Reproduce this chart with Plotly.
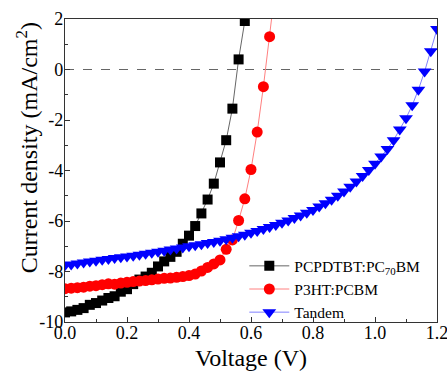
import plotly.graph_objects as go

# ---- data ----
v_pcpdtbt = [0.00, 0.02, 0.04, 0.06, 0.08, 0.10, 0.12, 0.14, 0.16, 0.18, 0.20, 0.22, 0.24, 0.26, 0.28,
             0.30, 0.32, 0.34, 0.36, 0.38, 0.40, 0.42, 0.44, 0.46, 0.48, 0.50, 0.52, 0.54, 0.56, 0.58]
j_pcpdtbt = [-9.62, -9.58, -9.52, -9.45, -9.32, -9.25, -9.15, -9.05, -8.98, -8.80, -8.70, -8.50, -8.32, -8.20, -8.05,
             -7.80, -7.60, -7.42, -7.22, -6.90, -6.58, -6.20, -5.70, -5.15, -4.52, -3.68, -2.80, -1.55, 0.40, 1.92]

v_p3ht = [0.00, 0.02, 0.04, 0.06, 0.08, 0.10, 0.12, 0.14, 0.16, 0.18, 0.20, 0.22, 0.24, 0.26, 0.28, 0.30, 0.32,
          0.34, 0.36, 0.38, 0.40, 0.42, 0.44, 0.46, 0.48, 0.50, 0.52, 0.54, 0.56, 0.58, 0.60, 0.62, 0.64, 0.66, 0.68]
j_p3ht = [-8.68, -8.66, -8.64, -8.62, -8.58, -8.56, -8.52, -8.49, -8.50, -8.46, -8.43, -8.40, -8.38, -8.36, -8.33, -8.30, -8.27,
          -8.26, -8.23, -8.20, -8.16, -8.10, -7.98, -7.84, -7.70, -7.54, -7.12, -6.75, -5.98, -5.12, -3.96, -2.48, -0.68, 1.30, 3.40]

v_tandem = [0.00, 0.02, 0.04, 0.06, 0.08, 0.10, 0.12, 0.14, 0.16, 0.18, 0.20, 0.22, 0.24, 0.26, 0.28, 0.30,
            0.32, 0.34, 0.36, 0.38, 0.40, 0.42, 0.44, 0.46, 0.48, 0.50, 0.52, 0.54, 0.56, 0.58, 0.60,
            0.62, 0.64, 0.66, 0.68, 0.70, 0.72, 0.74, 0.76, 0.78, 0.80, 0.82, 0.84, 0.86, 0.88, 0.90,
            0.92, 0.94, 0.96, 0.98, 1.00, 1.02, 1.04, 1.06, 1.08, 1.10, 1.12, 1.14, 1.16, 1.18, 1.20]
j_tandem = [-7.75, -7.72, -7.68, -7.64, -7.60, -7.57, -7.53, -7.50, -7.47, -7.44, -7.41, -7.38, -7.34, -7.30, -7.26, -7.22,
            -7.18, -7.13, -7.09, -7.05, -7.00, -6.96, -6.92, -6.87, -6.83, -6.78, -6.72, -6.66, -6.60, -6.54, -6.47,
            -6.40, -6.32, -6.24, -6.16, -6.07, -5.98, -5.88, -5.78, -5.67, -5.56, -5.43, -5.30, -5.16, -5.00, -4.83,
            -4.64, -4.44, -4.22, -3.98, -3.73, -3.45, -3.15, -2.80, -2.38, -1.93, -1.42, -0.80, -0.08, 0.72, 1.60]

x_tickvals = [0.0, 0.2, 0.4, 0.6, 0.8, 1.0, 1.2]
x_ticktext = ["0.0", "0.2", "0.4", "0.6", "0.8", "1.0", "1.2"]
y_tickvals = [2, 0, -2, -4, -6, -8, -10]
y_ticktext = ["2", "0", "-2", "-4", "-6", "-8", "-10"]

series_names = ["PCPDTBT:PC<sub>70</sub>BM", "P3HT:PCBM", "Tandem"]
x_title = "Voltage (V)"
y_title = "Current density (mA/cm<sup>2</sup>)"

FONT = "Liberation Serif"

fig = go.Figure()
fig.add_trace(go.Scatter(x=v_pcpdtbt, y=j_pcpdtbt, name=series_names[0], mode="lines+markers",
                         line=dict(color="#666666", width=1),
                         marker=dict(symbol="square", size=10, color="black")))
fig.add_trace(go.Scatter(x=v_p3ht, y=j_p3ht, name=series_names[1], mode="lines+markers",
                         line=dict(color="#ff8080", width=1),
                         marker=dict(symbol="circle", size=11, color="#ff0000")))
fig.add_trace(go.Scatter(x=v_tandem, y=j_tandem, name=series_names[2], mode="lines+markers",
                         line=dict(color="#8080ff", width=1),
                         marker=dict(symbol="triangle-down", size=12, color="#0000ff")))

fig.add_shape(type="line", xref="paper", yref="y", x0=0, x1=1, y0=0, y1=0,
              line=dict(color="#666666", width=1.2, dash="dash"), layer="below")

# y-axis title as a rotated annotation (sits above the plot centre in the reference)
fig.add_annotation(text=y_title, xref="paper", yref="paper", x=-0.102, y=0.574,
                   xanchor="center", yanchor="middle", textangle=-90, showarrow=False,
                   font=dict(family=FONT, size=24, color="black"))

axis_common = dict(showgrid=False, zeroline=False, showline=True, linecolor="#333333", linewidth=1.2,
                   mirror=True, ticks="inside", ticklen=5, tickcolor="#333333", tickwidth=1,
                   ticklabeloverflow="allow", automargin=False,
                   tickfont=dict(family=FONT, size=18, color="black"))

fig.update_xaxes(range=[0, 1.2], tickvals=x_tickvals, ticktext=x_ticktext,
                 minor=dict(ticks="inside", ticklen=3, dtick=0.1, tickcolor="#333333"),
                 ticklabelstandoff=-6,
                 title=dict(text=x_title, font=dict(family=FONT, size=24, color="black"), standoff=7),
                 **axis_common)
fig.update_yaxes(range=[-10, 2], tickvals=y_tickvals, ticktext=y_ticktext,
                 minor=dict(ticks="inside", ticklen=3, dtick=1, tickcolor="#333333"),
                 ticklabelstandoff=-3,
                 **axis_common)

fig.update_layout(
    width=447, height=372,
    margin=dict(l=65, r=10, t=19, b=50),
    paper_bgcolor="white", plot_bgcolor="white",
    font=dict(family=FONT, color="black"),
    legend=dict(x=0.482, y=0.24, xanchor="left", yanchor="top",
                bgcolor="rgba(0,0,0,0)", font=dict(family=FONT, size=15.5, color="black"),
                tracegroupgap=0, itemwidth=40),
    showlegend=True,
)

fig.write_html("out.html", config={"displayModeBar": False},
               post_script="document.body.style.margin='0';document.body.style.overflow='hidden';")
